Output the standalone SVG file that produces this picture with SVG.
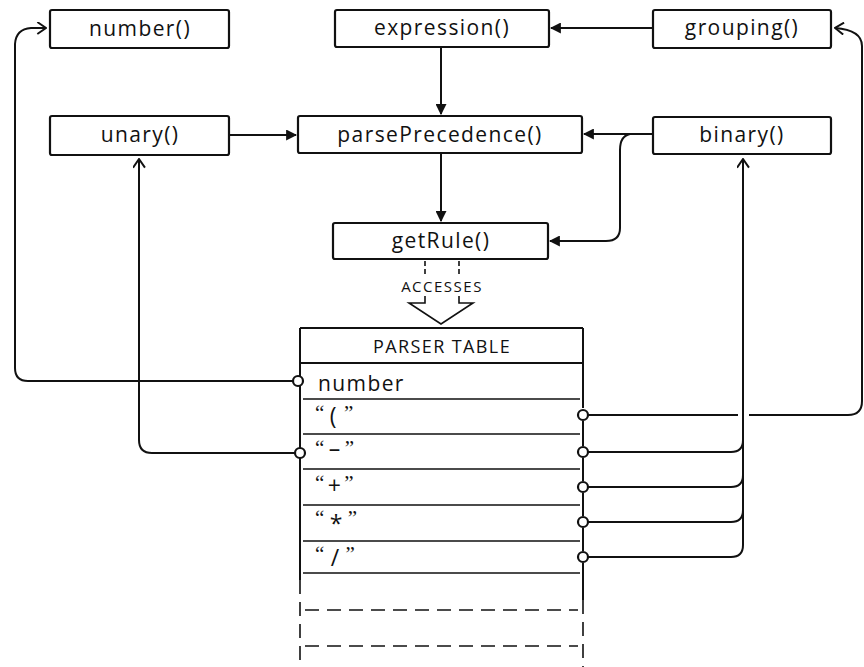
<svg xmlns="http://www.w3.org/2000/svg" width="864" height="667" viewBox="0 0 864 667">
<defs>
<style>
.box{fill:#fff;stroke:#111;stroke-width:2.2}
.lbl{font-family:"Open Sans","Noto Sans",sans-serif;font-size:21px;fill:#111;text-anchor:middle;letter-spacing:1.4px}
.row{font-family:"Open Sans","Noto Sans",sans-serif;font-size:21px;fill:#111;letter-spacing:1.4px}
.q{font-size:21px;font-family:"Liberation Serif",serif}
.ch{font-size:23px}
.cap{font-family:"Open Sans","Noto Sans",sans-serif;font-size:18px;fill:#111;text-anchor:middle;letter-spacing:1.4px}
.cap2{font-family:"Open Sans","Noto Sans",sans-serif;font-size:15px;fill:#111;text-anchor:middle;letter-spacing:1.5px}
.ln{fill:none;stroke:#111;stroke-width:2}
.thin{fill:none;stroke:#111;stroke-width:1.6}
.dash{fill:none;stroke:#111;stroke-width:1.6;stroke-dasharray:14 8}
.dot{fill:#fff;stroke:#111;stroke-width:2.2}
</style>
<marker id="fill" viewBox="0 0 10 10" refX="9" refY="5" markerWidth="11" markerHeight="11" markerUnits="userSpaceOnUse" orient="auto">
<path d="M0,0 L10,5 L0,10 z" fill="#111"/>
</marker>
<marker id="open" viewBox="0 0 10 12" refX="9" refY="6" markerWidth="11" markerHeight="13" markerUnits="userSpaceOnUse" orient="auto">
<path d="M1,0.5 L9,6 L1,11.5" fill="none" stroke="#111" stroke-width="1.8"/>
</marker>
</defs>
<rect width="864" height="667" fill="#fff"/>

<g id="connectors">
<path class="ln" d="M293,381 H28 Q15,381 15,368 V44 Q16,29 31,28 H46" marker-end="url(#open)"/>
<path class="ln" d="M295,453 H152 Q139,453 139,440 V159" marker-end="url(#open)"/>
<path class="ln" d="M229,135 H296" marker-end="url(#fill)"/>
<path class="ln" d="M441,47 V114" marker-end="url(#fill)"/>
<path class="ln" d="M653,28 H551" marker-end="url(#fill)"/>
<path class="ln" d="M653,134 H584" marker-end="url(#fill)"/>
<path class="ln" d="M630,134 Q620,136 620,150 V228 Q620,241 606,241 H550" marker-end="url(#fill)"/>
<path class="ln" d="M441,153 V221" marker-end="url(#fill)"/>
<path class="ln" d="M588,415 H738 M749,415 H848 Q862,415 862,401 V46 Q862,30 835,28" marker-end="url(#open)"/>
<path class="ln" d="M588,452 H731 Q743,452 743,440 V159" marker-end="url(#open)"/>
<path class="ln" d="M588,487 H731 Q743,487 743,475"/>
<path class="ln" d="M588,522 H731 Q743,522 743,510"/>
<path class="ln" d="M588,557 H731 Q743,557 743,545 V440"/>
<path class="thin" d="M425,261 V266 M425,269 V274 M459,261 V266 M459,269 V274"/>
<path class="thin" d="M425,296 V303 L409,303 L441,324 L473,303 L459,303 V296"/>
<text class="cap2" x="442" y="292">ACCESSES</text>
</g>

<g id="number">
<rect class="box" x="50" y="10" width="179" height="38" rx="2"/>
<text class="lbl" x="140" y="36">number()</text>
</g>
<g id="unary">
<rect class="box" x="50" y="116" width="179" height="39" rx="2"/>
<text class="lbl" x="140" y="142">unary()</text>
</g>
<g id="expression">
<rect class="box" x="335" y="10" width="214" height="37" rx="2"/>
<text class="lbl" x="442" y="35">expression()</text>
</g>
<g id="grouping">
<rect class="box" x="653" y="10" width="178" height="38" rx="2"/>
<text class="lbl" x="742" y="35">grouping()</text>
</g>
<g id="parsePrecedence">
<rect class="box" x="298" y="116" width="284" height="37" rx="2"/>
<text class="lbl" x="440" y="142">parsePrecedence()</text>
</g>
<g id="binary">
<rect class="box" x="653" y="117" width="178" height="37" rx="2"/>
<text class="lbl" x="742" y="142">binary()</text>
</g>
<g id="getRule">
<rect class="box" x="333" y="223" width="215" height="36" rx="2"/>
<text class="lbl" x="441" y="248">getRule()</text>
</g>

<g id="parser-table">
<path class="ln" d="M300,328 H583"/>
<path class="ln" d="M300,328 V580"/>
<path class="dash" d="M300,580 V667"/>
<path class="ln" d="M583,328 V408 M583,421 V446 M583,458 V481 M583,493 V516 M583,528 V551 M583,563 V600"/>
<path class="dash" d="M583,600 V667"/>
<path class="ln" d="M301,363 H583"/>
<path class="thin" d="M303,399 H580 M303,434 H580 M303,469 H580 M303,505 H580 M303,541 H580 M303,573 H580"/>
<path class="dash" d="M305,610 H578 M305,646 H578"/>
<text class="cap" x="442" y="353">PARSER TABLE</text>
<text class="row" x="318" y="391">number</text>
<text class="row" x="315" y="420"><tspan class="q">“</tspan><tspan class="ch" dx="4" dy="4">(</tspan><tspan class="q" dx="6" dy="-4">”</tspan></text>
<text class="row" x="315" y="455"><tspan class="q">“</tspan><tspan class="ch" dx="3" dy="2">–</tspan><tspan class="q" dx="3" dy="-2">”</tspan></text>
<text class="row" x="315" y="490"><tspan class="q">“</tspan><tspan class="ch" dx="2" dy="4">+</tspan><tspan class="q" dx="2" dy="-4">”</tspan></text>
<text class="row" x="315" y="525"><tspan class="q">“</tspan><tspan class="ch" dx="4" dy="7">*</tspan><tspan class="q" dx="4" dy="-7">”</tspan></text>
<text class="row" x="315" y="561"><tspan class="q">“</tspan><tspan class="ch" dx="5" dy="5">/</tspan><tspan class="q" dx="5" dy="-5">”</tspan></text>
<circle class="dot" cx="298" cy="381" r="5"/>
<circle class="dot" cx="300" cy="453" r="5"/>
<circle class="dot" cx="583" cy="415" r="5"/>
<circle class="dot" cx="583" cy="452" r="5"/>
<circle class="dot" cx="583" cy="487" r="5"/>
<circle class="dot" cx="583" cy="522" r="5"/>
<circle class="dot" cx="583" cy="557" r="5"/>
</g>
</svg>
